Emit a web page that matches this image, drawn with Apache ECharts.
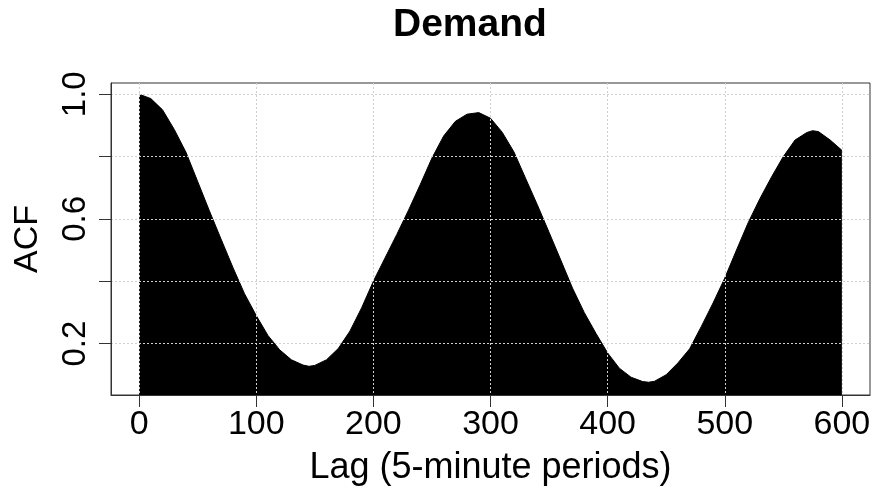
<!DOCTYPE html>
<html><head><meta charset="utf-8">
<script src="https://cdn.jsdelivr.net/npm/echarts@6/dist/echarts.min.js"></script>
<style>html,body{margin:0;padding:0;background:#fff}#c{width:876px;height:491px}</style>
</head><body><div id="c"></div>
<script>
const titleText = 'Demand';
const xName = 'Lag (5-minute periods)';
const yName = 'ACF';
const lags = [0,10,20,30,40,50,60,70,80,90,100,110,120,130,140,145,150,160,170,180,190,200,
  210,220,230,240,250,260,270,280,290,300,310,320,330,340,350,360,370,380,390,400,
  410,420,430,435,440,450,460,470,480,490,500,510,520,530,540,550,560,570,575,580,590,600];
const acf = [1.000,0.986,0.950,0.887,0.814,0.720,0.626,0.535,0.445,0.360,0.290,
  0.226,0.180,0.148,0.131,0.127,0.130,0.148,0.184,0.240,0.315,0.400,
  0.475,0.550,0.628,0.710,0.795,0.866,0.913,0.936,0.941,0.923,
  0.878,0.815,0.730,0.645,0.557,0.468,0.378,0.300,0.233,0.170,
  0.121,0.092,0.078,0.076,0.079,0.100,0.138,0.183,0.255,0.330,0.410,
  0.500,0.588,0.665,0.735,0.800,0.853,0.877,0.883,0.880,0.853,0.820];
const xTicks = [0,100,200,300,400,500,600];
const yTicks = [0.2,0.4,0.6,0.8,1.0];
const yLabels = [0.2,0.6,1.0];

const font = "'Liberation Sans', Arial, sans-serif";
const chart = echarts.init(document.getElementById('c'), null, {renderer:'canvas'});
chart.setOption({
  animation:false,
  backgroundColor:'#ffffff',
  title:{text:titleText,left:388,top:1,padding:5,
    textStyle:{fontFamily:font,fontWeight:'bold',fontSize:39,color:'#000'}},
  grid:{left:111,top:83,width:759,height:314,show:true,borderColor:'#333',borderWidth:1,backgroundColor:'transparent'},
  xAxis:{type:'value',min:-24,max:624,z:5,
    name:xName,nameLocation:'middle',nameGap:55,
    nameTextStyle:{fontFamily:font,fontSize:36,color:'#000'},
    axisLine:{show:true,onZero:false,lineStyle:{color:'#333',width:1}},
    axisTick:{show:true,length:12,customValues:xTicks,lineStyle:{color:'#333'}},
    axisLabel:{customValues:xTicks,margin:13,fontFamily:font,fontSize:34,color:'#000'},
    splitLine:{show:true,lineStyle:{color:'#d0d0d0',type:[2,2],width:1}}
  },
  yAxis:{type:'value',min:0.035,max:1.036,z:5,
    name:yName,nameLocation:'middle',nameGap:66,nameRotate:90,
    nameTextStyle:{fontFamily:font,fontSize:34,color:'#000'},
    axisLine:{show:true,onZero:false,lineStyle:{color:'#333',width:1}},
    axisTick:{show:true,length:12,customValues:yTicks,lineStyle:{color:'#333'}},
    axisLabel:{customValues:yLabels,rotate:90,margin:19,fontFamily:font,fontSize:33,color:'#000',
      formatter:v=>Number(v).toFixed(1)},
    splitLine:{show:true,lineStyle:{color:'#d0d0d0',type:[2,2],width:1}}
  },
  series:[{type:'line',data:lags.map((l,i)=>[l,acf[i]]),showSymbol:false,smooth:false,z:2,
    lineStyle:{color:'#000',width:1},
    areaStyle:{color:'#000',opacity:1,origin:'start'}}]
});
</script></body></html>
